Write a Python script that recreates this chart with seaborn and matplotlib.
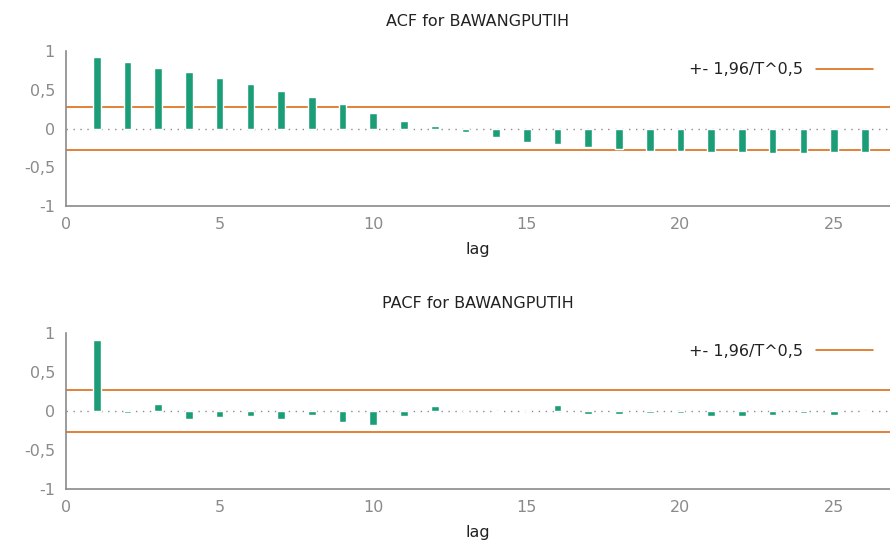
import matplotlib
matplotlib.use("Agg")
import matplotlib.pyplot as plt
import seaborn as sns
from matplotlib.lines import Line2D

# lags and correlogram values
lags = list(range(1, 27))
acf_vals = [0.926, 0.852, 0.787, 0.726, 0.648, 0.570, 0.483, 0.404, 0.313, 0.200,
            0.096, 0.030, -0.048, -0.109, -0.170, -0.204, -0.235, -0.260, -0.296, -0.296,
            -0.309, -0.309, -0.322, -0.322, -0.309, -0.309]
pacf_vals = [0.902, -0.030, 0.085, -0.106, -0.077, -0.064, -0.106, -0.047, -0.140, -0.183,
             -0.064, 0.068, -0.005, -0.010, -0.005, 0.072, -0.034, -0.034, -0.020, -0.020,
             -0.064, -0.064, -0.047, -0.030, -0.050, -0.012]
band = 0.272
titles = ["ACF for BAWANGPUTIH", "PACF for BAWANGPUTIH"]
legend_label = "+- 1,96/T^0,5"
yticks = [-1, -0.5, 0, 0.5, 1]
ytick_labels = ["-1", "-0,5", "0", "0,5", "1"]
xticks = [0, 5, 10, 15, 20, 25]

green = "#1b9e77"
orange = "#d95f02"
grey = "#8a8a8a"

sns.set_style("white")
plt.rcParams["font.family"] = ["DejaVu Sans"]

fig = plt.figure(figsize=(8.9, 5.46), dpi=100)
ax1 = fig.add_axes([0.0742, 0.6227, 0.9258, 0.2839])
ax2 = fig.add_axes([0.0742, 0.1038, 0.9258, 0.2869])

for ax, vals, title in [(ax1, acf_vals, titles[0]), (ax2, pacf_vals, titles[1])]:
    sns.barplot(x=lags, y=vals, native_scale=True, width=0.25, color=green,
                saturation=1, ax=ax, zorder=3)
    ax.axhline(0, color=grey, lw=1, ls=(0, (1, 4)), zorder=1)
    ax.axhline(band, color=orange, lw=1.1, zorder=2)
    ax.axhline(-band, color=orange, lw=1.1, zorder=2)
    ax.set_xlim(0, 26.82)
    ax.set_ylim(-1, 1)
    ax.set_yticks(yticks)
    ax.set_yticklabels(ytick_labels)
    ax.set_xticks(xticks)
    ax.set_xticklabels([str(t) for t in xticks])
    ax.tick_params(direction="in", length=6, width=1, color=grey,
                   labelcolor=grey, labelsize=11.5, pad=8)
    ax.tick_params(axis="y", pad=8)
    for s in ["top", "right"]:
        ax.spines[s].set_visible(False)
    for s in ["left", "bottom"]:
        ax.spines[s].set_color(grey)
        ax.spines[s].set_linewidth(1.2)
    ax.set_title(title, fontsize=11.5, color="#222222", pad=18)
    ax.set_xlabel("lag", fontsize=11.5, color="#222222", labelpad=7)
    ax.set_ylabel("")
    handle = Line2D([0], [0], color=orange, lw=1.1)
    ax.legend([handle], [legend_label], loc="upper right", frameon=False,
              markerfirst=False, fontsize=11.5, handlelength=3.6,
              bbox_to_anchor=(0.9935, 1.0), borderaxespad=0.3)
    for t in ax.get_legend().get_texts():
        t.set_color("#222222")

fig.savefig("out.png", dpi=100)
